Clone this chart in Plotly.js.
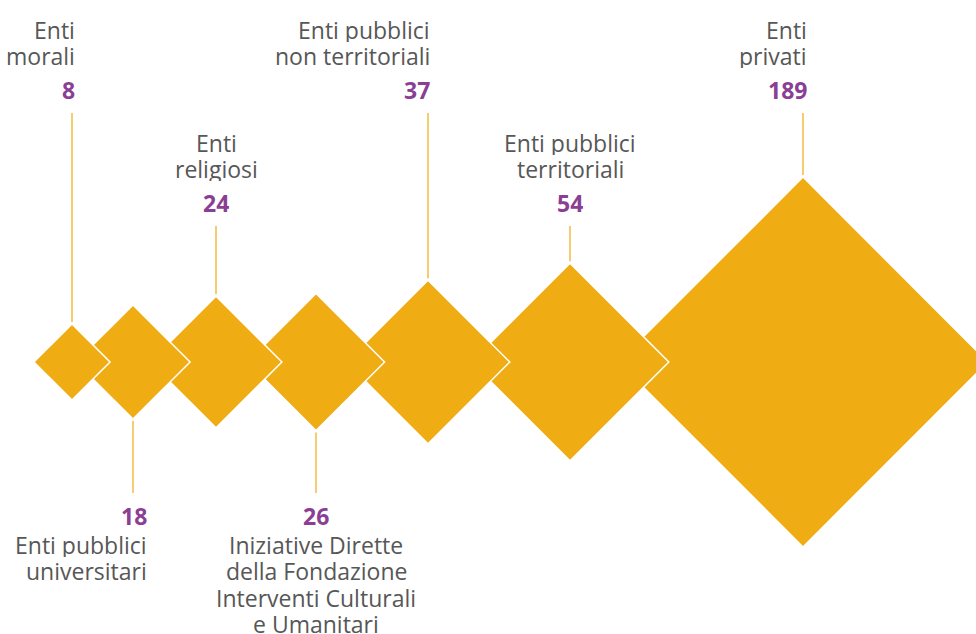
<!DOCTYPE html>
<html>
<head>
<meta charset="utf-8">
<script src="https://cdn.plot.ly/plotly-3.0.1.min.js"></script>
<style>
  html, body { margin: 0; padding: 0; background: #ffffff; }
  #chart { width: 976px; height: 634px; }
</style>
</head>
<body>
<div id="chart"></div>
<script>
// ---- data ----
const values = [8, 18, 24, 26, 37, 54, 189];
const valueLabels = ["8", "18", "24", "26", "37", "54", "189"];
const labelLines = [
  ["Enti", "morali"],
  ["Enti pubblici", "universitari"],
  ["Enti", "religiosi"],
  ["Iniziative Dirette", "della Fondazione", "Interventi Culturali", "e Umanitari"],
  ["Enti pubblici", "non territoriali"],
  ["Enti pubblici", "territoriali"],
  ["Enti", "privati"]
];

// ---- layout helpers (positions / styles) ----
const centerX = [72, 133, 216, 316, 428, 570, 803];
const centerY = 362;
const side = ["top", "bottom", "top", "bottom", "top", "top", "top"];
const stemLimit = [113, 493, 226, 493, 113, 226, 113];
const textAnchor = ["right", "right", "center", "center", "right", "center", "right"];
const textShift = [4, 15, 0, 0, 3, 0, 5];

const K = 13.45;                       // px of half-diagonal per sqrt(value)
const sizeref = 1 / (2 * Math.pow(K / 1.3, 2));

const DIAMOND = "#EFAC13";
const STEM = "#F1B128";
const PURPLE = "#8A3F94";
const GREY = "#575757";
const FONT = "Open Sans";
const FS = 23;
const LINE = 26.3;
const BOXH = 24;

const traces = [];

// diamonds: draw largest (last) first so earlier diamonds sit on top
const order = values.map((v, i) => i).reverse();
traces.push({
  type: "scatter",
  mode: "markers",
  x: order.map(i => centerX[i]),
  y: order.map(() => centerY),
  marker: {
    symbol: "diamond",
    size: order.map(i => values[i]),
    sizemode: "area",
    sizeref: sizeref,
    color: DIAMOND,
    opacity: 1,
    line: { color: "#ffffff", width: 1.5 }
  },
  hoverinfo: "skip",
  showlegend: false
});

// stems
values.forEach((v, i) => {
  const half = K * Math.sqrt(v);
  const tip = side[i] === "top" ? centerY - half - 2 : centerY + half + 2;
  traces.push({
    type: "scatter",
    mode: "lines",
    x: [centerX[i], centerX[i]],
    y: [stemLimit[i], tip],
    line: { color: STEM, width: 1.3 },
    hoverinfo: "skip",
    showlegend: false
  });
});

const annotations = [];
values.forEach((v, i) => {
  const x = centerX[i];
  const common = {
    xref: "x", yref: "y", showarrow: false, height: BOXH, borderpad: 0,
    xanchor: textAnchor[i], xshift: textShift[i], yanchor: "middle",
    align: textAnchor[i] === "right" ? "right" : "center"
  };
  if (side[i] === "top") {
    annotations.push(Object.assign({}, common, {
      x: x, y: stemLimit[i] - 23.5,
      text: "<b>" + valueLabels[i] + "</b>",
      font: { family: FONT, size: FS, color: PURPLE }
    }));
    const lines = labelLines[i];
    lines.forEach((t, j) => {
      annotations.push(Object.assign({}, common, {
        x: x, y: stemLimit[i] - 57 - (lines.length - 1 - j) * LINE,
        text: t,
        font: { family: FONT, size: FS, color: GREY }
      }));
    });
  } else {
    annotations.push(Object.assign({}, common, {
      x: x, y: stemLimit[i] + 23,
      text: "<b>" + valueLabels[i] + "</b>",
      font: { family: FONT, size: FS, color: PURPLE }
    }));
    labelLines[i].forEach((t, j) => {
      annotations.push(Object.assign({}, common, {
        x: x, y: stemLimit[i] + 52 + j * LINE,
        text: t,
        font: { family: FONT, size: FS, color: GREY }
      }));
    });
  }
});

const layout = {
  width: 976,
  height: 634,
  margin: { l: 0, r: 0, t: 0, b: 0, pad: 0 },
  paper_bgcolor: "#ffffff",
  plot_bgcolor: "#ffffff",
  showlegend: false,
  xaxis: { range: [0, 976], autorange: false, visible: false, fixedrange: true },
  yaxis: { range: [634, 0], autorange: false, visible: false, fixedrange: true },
  annotations: annotations
};

Plotly.newPlot("chart", traces, layout, { displayModeBar: false, staticPlot: true });
</script>
</body>
</html>
